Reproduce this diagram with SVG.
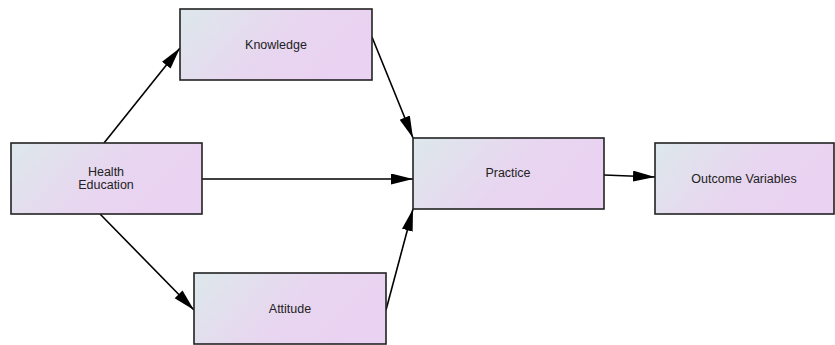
<svg xmlns="http://www.w3.org/2000/svg" width="835" height="345" viewBox="0 0 835 345">
<style>
.node rect{fill:url(#g);stroke:#222;stroke-width:1.6}
.node text{font-family:"Liberation Sans",Arial,sans-serif;font-size:12.5px;fill:#222;text-anchor:middle}
.edge{stroke:#000;stroke-width:1.6;fill:none;marker-end:url(#a)}
</style>
<defs>
<linearGradient id="g" x1="0" y1="0" x2="1" y2="0.35">
<stop offset="0" stop-color="#dde8eb"/>
<stop offset="0.6" stop-color="#e8d6f0"/>
<stop offset="1" stop-color="#ead2f2"/>
</linearGradient>
<marker id="a" markerUnits="userSpaceOnUse" markerWidth="23" markerHeight="12" refX="22" refY="5.5" orient="auto" viewBox="0 0 23 12">
<path d="M0,0 L22,5.5 L0,11 z" fill="#000"/>
</marker>
</defs>
<g id="edges">
<path class="edge" d="M104,143 L180,48"/>
<path class="edge" d="M372,37 L413,138"/>
<path class="edge" d="M202,179 L413,179"/>
<path class="edge" d="M100,214 L194,310"/>
<path class="edge" d="M386,310 L413,209"/>
<path class="edge" d="M604,175 L655,177"/>
</g>
<g id="knowledge" class="node"><rect x="180" y="9" width="192" height="71"/><text x="276" y="49">Knowledge</text></g>
<g id="health-education" class="node"><rect x="11" y="143" width="191" height="71"/><text x="106" y="176">Health</text><text x="106" y="189">Education</text></g>
<g id="practice" class="node"><rect x="413" y="138" width="191" height="71"/><text x="508" y="177">Practice</text></g>
<g id="outcome-variables" class="node"><rect x="655" y="143" width="179" height="71"/><text x="744" y="183">Outcome Variables</text></g>
<g id="attitude" class="node"><rect x="194" y="273" width="192" height="71"/><text x="290" y="313">Attitude</text></g>
</svg>
